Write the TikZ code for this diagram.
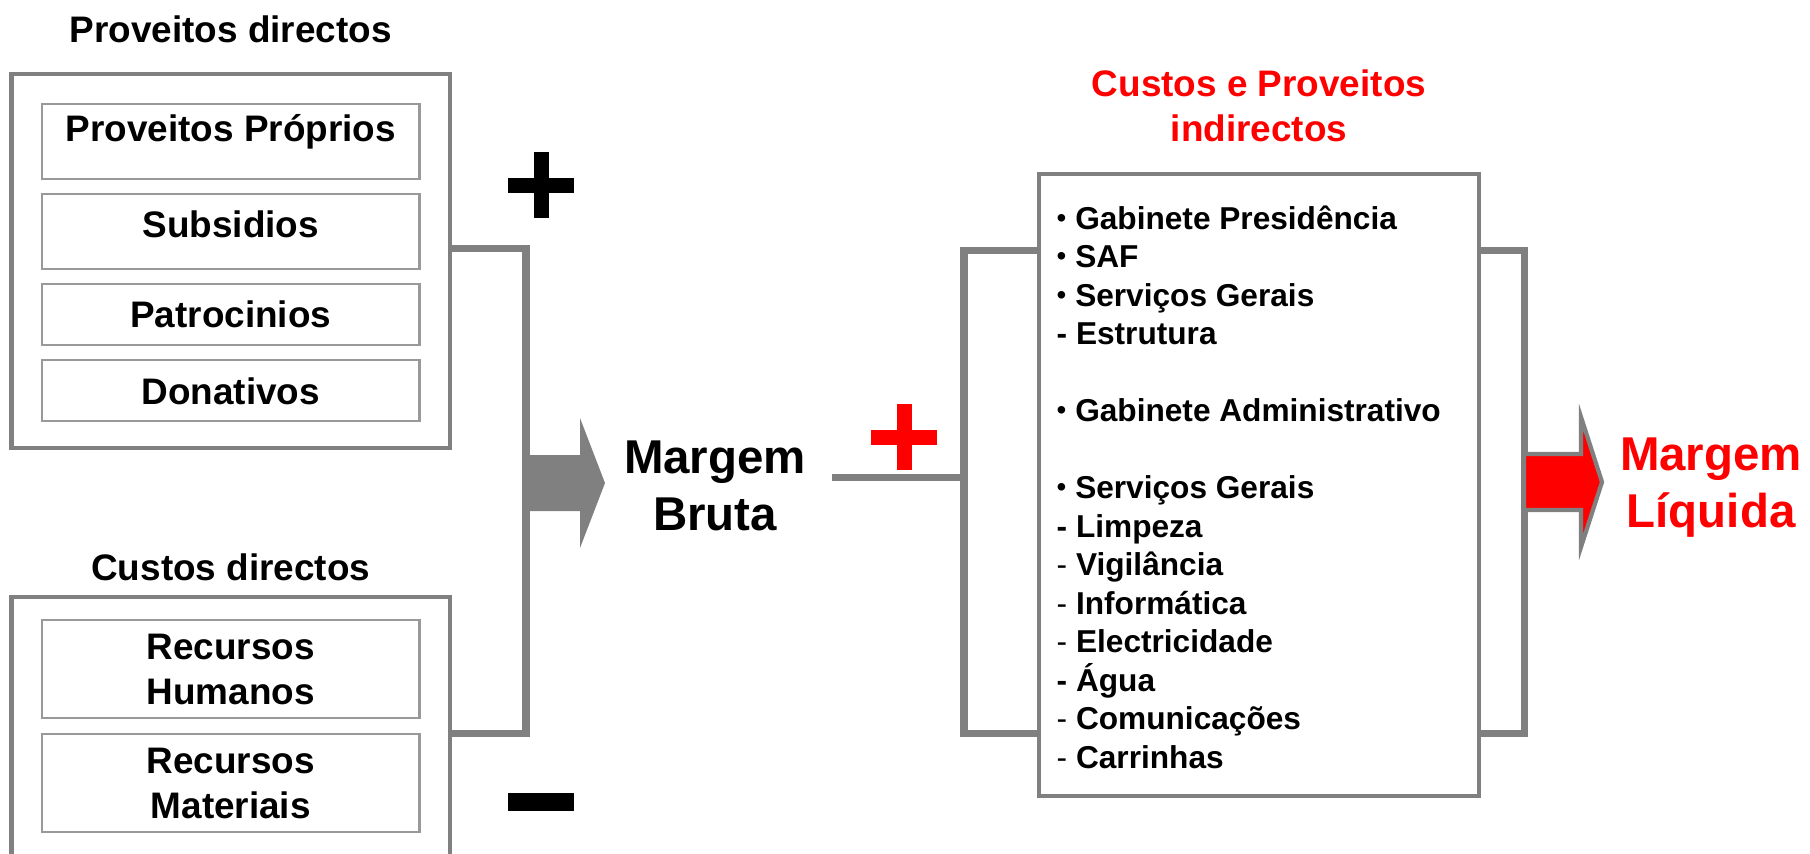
\documentclass[tikz,border=0pt]{standalone}
\usepackage{fontspec}
\setmainfont{Liberation Sans}
\usetikzlibrary{calc,positioning}
\newcommand{\bul}{\raisebox{0.12ex}{\scalebox{0.88}{\mdseries •}}}

\begin{document}
\begin{tikzpicture}[
  outerbox/.style={draw=gray,line width=1.4pt,inner sep=0pt,minimum width=4.385cm},
  itembox/.style={draw=gray!80,line width=0.6pt,inner sep=0pt,minimum width=3.775cm,align=center,font=\fontsize{10.5}{12.8}\selectfont\bfseries},
  heading/.style={inner sep=0pt,align=center,font=\fontsize{10.5}{12.8}\selectfont\bfseries},
  margem/.style={inner sep=0.25cm,align=center,font=\fontsize{13.5}{16.2}\selectfont\bfseries},
  link/.style={draw=gray,line width=2pt},
  sign/.style={line width=0.15cm}]
  \useasboundingbox (0,0) rectangle (18.1,-8.53);
  \clip (0,0) rectangle (18.1,-8.53);

  % proveitos directos
  \node[outerbox,minimum height=3.74cm] (pd) at (2.3075,-2.61) {};
  \node[heading] (pdt) [above=0.28cm of pd] {Proveitos directos};
  \node[itembox,minimum height=0.75cm,text depth=0.27cm] (pp) at (2.3075,-1.415) {Proveitos Próprios};
  \node[itembox,minimum height=0.75cm,text depth=0.16cm] (sub) [below=0.13cm of pp] {Subsidios};
  \node[itembox,minimum height=0.61cm] (pat) [below=0.13cm of sub] {Patrocinios};
  \node[itembox,minimum height=0.61cm] (don) [below=0.13cm of pat] {Donativos};

  % custos directos
  \node[outerbox,minimum height=2.83cm] (cd) at (2.3075,-7.385) {};
  \node[heading] (cdt) [above=0.13cm of cd] {Custos directos};
  \node[itembox,minimum height=0.98cm] (rh) at (2.3075,-6.69) {Recursos\\Humanos};
  \node[itembox,minimum height=0.98cm] (rm) [below=0.14cm of rh] {Recursos\\Materiais};

  % + and -
  \draw[sign] (5.08,-1.85) -- (5.74,-1.85) (5.41,-1.52) -- (5.41,-2.18);
  \draw[sign,line width=0.18cm] (5.08,-8.02) -- (5.74,-8.02);

  % left bracket and arrow
  \coordinate (ltop) at (5.26,-2.48);
  \coordinate (lbot) at (5.26,-7.33);
  \draw[link] (ltop -| pd.east) -- (ltop) -- (lbot) -- (lbot -| cd.east);
  \coordinate (ga) at (5.26,-4.83);
  \fill[gray] (ga) ++(0,0.28) -- ++(0.54,0) -- ++(0,0.37) -- ++(0.25,-0.65)
    -- ++(-0.25,-0.65) -- ++(0,0.37) -- ++(-0.54,0) -- cycle;

  \node[margem] (mb) at (7.15,-4.86) {Margem\\Bruta};

  % custos e proveitos indirectos
  \node[outerbox,minimum width=4.40cm,minimum height=6.22cm] (cp) at (12.59,-4.85) {};
  \node[heading,text=red] (cpt) [above=0.29cm of cp] {Custos e Proveitos\\indirectos};
  \node[anchor=north west,inner sep=0pt,align=left,font=\fontsize{9}{10.95}\selectfont\bfseries] (lst) at (10.56,-2.05) {%
    \bul{} Gabinete Presidência\\
    \bul{} SAF\\
    \bul{} Serviços Gerais\\
    - Estrutura\\
    ~\\
    \bul{} Gabinete Administrativo\\
    ~\\
    \bul{} Serviços Gerais\\
    - Limpeza\\
    \textmd{-} Vigilância\\
    \textmd{-} Informática\\
    \textmd{-} Electricidade\\
    - Água\\
    \textmd{-} Comunicações\\
    \textmd{-} Carrinhas};

  \coordinate (rtop) at (9.64,-2.50);
  \coordinate (rbot) at (9.64,-7.33);
  \coordinate (rmid) at (9.64,-4.77);
  \draw[link] (mb.east |- rmid) -- (rmid);
  \draw[link] (rtop -| cp.west) -- (rtop) -- (rbot) -- (rbot -| cp.west);
  \draw[sign,red] (8.71,-4.37) -- (9.37,-4.37) (9.04,-4.04) -- (9.04,-4.70);

  % right bracket and arrow
  \coordinate (rrtop) at (15.24,-2.50);
  \coordinate (rrbot) at (15.24,-7.33);
  \draw[link] (rrtop -| cp.east) -- (rrtop) -- (rrbot) -- (rrbot -| cp.east);
  \coordinate (ra) at (15.24,-4.82);
  \filldraw[fill=red,draw=gray,line width=1.2pt] (ra) ++(0,0.28) -- ++(0.57,0) -- ++(0,0.37)
    -- ++(0.21,-0.65) -- ++(-0.21,-0.65) -- ++(0,0.37) -- ++(-0.57,0) -- cycle;

  \node[margem,text=red] (ml) at (17.11,-4.88) {Margem\\Líquida};
\end{tikzpicture}
\end{document}
